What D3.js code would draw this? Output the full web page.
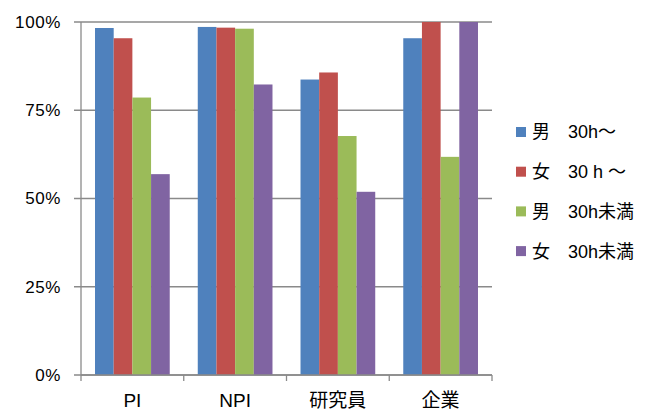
<!DOCTYPE html>
<html>
<head>
<meta charset="utf-8">
<script src="https://cdn.jsdelivr.net/npm/d3@7"></script>
<style>
  html, body { margin: 0; padding: 0; background: #fff; }
  svg { display: block; }
  text { font-family: "Liberation Sans", Arial, "Noto Sans CJK JP", sans-serif; fill: #000; }
</style>
</head>
<body>
<svg id="chart" width="657" height="412"></svg>
<script>
// Share of respondents by job type and weekly working hours
const categories = ["PI", "NPI", "研究員", "企業"];
const seriesNames = ["男　30h～", "女　30 h ～", "男　30h未満", "女　30h未満"];
const seriesColors = ["#4F81BD", "#C0504D", "#9BBB59", "#8064A2"];
const maleOver30 = [98.3, 98.6, 83.7, 95.4];
const femaleOver30 = [95.4, 98.4, 85.7, 100];
const maleUnder30 = [78.6, 98.1, 67.7, 61.8];
const femaleUnder30 = [56.9, 82.3, 51.9, 100];
const yTicks = [0, 25, 50, 75, 100];

const seriesValues = [maleOver30, femaleOver30, maleUnder30, femaleUnder30];

const svg = d3.select("#chart");
const margin = { left: 81, right: 165, top: 22, bottom: 37 };
const W = 657, H = 412;

const x = d3.scaleBand()
  .domain(categories)
  .range([margin.left, W - margin.right])
  .paddingInner(0)
  .paddingOuter(0);

const xi = d3.scaleBand()
  .domain(d3.range(seriesNames.length))
  .range([0, x.bandwidth()])
  .paddingOuter(0.75)
  .paddingInner(0);

const y = d3.scaleLinear()
  .domain([0, 100])
  .range([H - margin.bottom, margin.top]);

// horizontal gridlines
svg.append("g")
  .selectAll("line")
  .data(yTicks)
  .join("line")
  .attr("x1", margin.left - 7)
  .attr("x2", W - margin.right)
  .attr("y1", d => y(d))
  .attr("y2", d => y(d))
  .attr("stroke", "#8a8a8a")
  .attr("stroke-width", 1.3);

// y tick labels
svg.append("g")
  .selectAll("text")
  .data(yTicks)
  .join("text")
  .attr("x", 61)
  .attr("y", d => y(d))
  .attr("dy", "0.35em")
  .attr("text-anchor", "end")
  .attr("font-size", 17)
  .attr("letter-spacing", 0.6)
  .text(d => d + "%");

// bars
const groups = svg.append("g")
  .selectAll("g")
  .data(seriesValues)
  .join("g")
  .attr("fill", (d, i) => seriesColors[i]);

groups.each(function (vals, si) {
  d3.select(this).selectAll("rect")
    .data(vals)
    .join("rect")
    .attr("x", (v, ci) => x(categories[ci]) + xi(si))
    .attr("width", xi.bandwidth())
    .attr("y", v => y(v))
    .attr("height", v => y(0) - y(v));
});

// y axis line
svg.append("line")
  .attr("x1", margin.left).attr("x2", margin.left)
  .attr("y1", margin.top).attr("y2", y(0))
  .attr("stroke", "#8a8a8a").attr("stroke-width", 1.3);

// x axis with category boundary ticks
const xAxis = svg.append("g");
xAxis.append("line")
  .attr("x1", margin.left).attr("x2", W - margin.right)
  .attr("y1", y(0)).attr("y2", y(0))
  .attr("stroke", "#8a8a8a").attr("stroke-width", 1.3);
const bounds = categories.map(c => x(c)).concat([x(categories[categories.length - 1]) + x.bandwidth()]);
xAxis.selectAll("line.tick")
  .data(bounds)
  .join("line")
  .attr("class", "tick")
  .attr("x1", d => d).attr("x2", d => d)
  .attr("y1", y(0)).attr("y2", y(0) + 6)
  .attr("stroke", "#8a8a8a").attr("stroke-width", 1.3);
xAxis.selectAll("text")
  .data(categories)
  .join("text")
  .attr("x", d => x(d) + x.bandwidth() / 2)
  .attr("y", 407)
  .attr("text-anchor", "middle")
  .attr("font-size", 19)
  .text(d => d);

// legend
const legend = svg.append("g").attr("transform", "translate(516,132)");
const rows = legend.selectAll("g")
  .data(seriesNames)
  .join("g")
  .attr("transform", (d, i) => `translate(0,${i * 39.7})`);
rows.append("rect")
  .attr("x", 0).attr("y", -5)
  .attr("width", 10).attr("height", 10)
  .attr("fill", (d, i) => seriesColors[i]);
rows.append("text")
  .attr("x", 16)
  .attr("dy", "0.36em")
  .attr("font-size", 18)
  .text(d => d);
</script>
</body>
</html>
